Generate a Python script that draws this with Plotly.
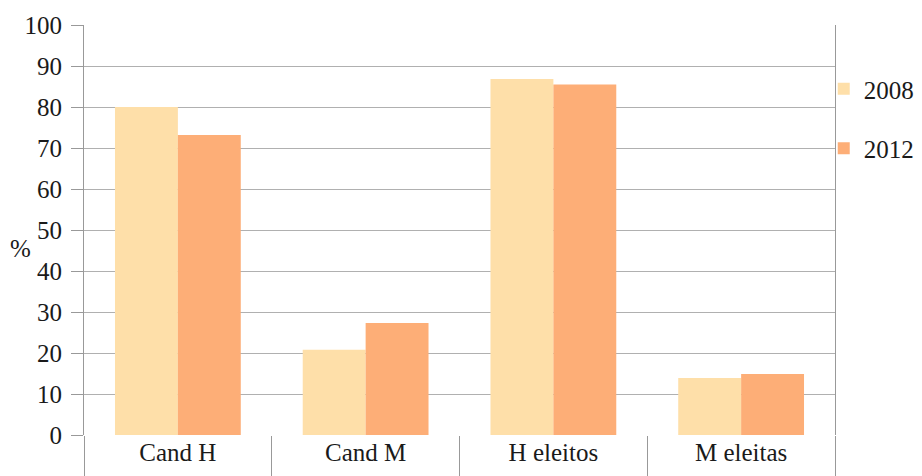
import plotly.graph_objects as go

categories = ["Cand H", "Cand M", "H eleitos", "M eleitas"]
series_names = ["2008", "2012"]
values_2008 = [80, 20.8, 86.8, 13.9]
values_2012 = [73.2, 27.3, 85.5, 14.9]
y_ticks = [0, 10, 20, 30, 40, 50, 60, 70, 80, 90, 100]

colors = ["#FEDFA9", "#FDAE77"]
font_family = "'Liberation Serif', 'Times New Roman', serif"

fig = go.Figure()
for i, (name, vals) in enumerate(zip(series_names, [values_2008, values_2012])):
    fig.add_trace(go.Bar(
        x=categories, y=vals, name=name, marker_color=colors[i],
        marker_line_width=0, legendgroup=name,
    ))

fig.update_layout(
    width=922, height=476,
    margin=dict(l=84, r=87, t=25, b=41, autoexpand=False),
    paper_bgcolor="white", plot_bgcolor="white",
    barmode="group", bargap=0.33, bargroupgap=0,
    font=dict(family=font_family, size=25, color="#1a1a1a"),
    legend=dict(x=0.985, y=0.9, xanchor="left", yanchor="top",
                font=dict(size=25), tracegroupgap=24, itemwidth=30,
                bgcolor="rgba(0,0,0,0)"),
    showlegend=True,
)
fig.update_xaxes(
    range=[-0.5, 3.5], showgrid=False, showline=False,
    ticks="outside", tickson="boundaries", ticklen=41, tickcolor="#999999",
    tickwidth=1, tickfont=dict(size=25),
    zeroline=False,
)
fig.update_yaxes(
    range=[0, 100], tickvals=y_ticks, showgrid=True, gridcolor="#b0b0b0",
    gridwidth=1, showline=True, linecolor="#999999", linewidth=1, mirror=True,
    ticks="outside", ticklen=12, tickcolor="#999999", tickfont=dict(size=25),
    ticklabelstandoff=4, zeroline=False,
)
fig.add_annotation(text="%", x=-0.084, y=0.455, xref="paper", yref="paper",
                   xanchor="center", showarrow=False,
                   font=dict(size=25, family=font_family))

fig.write_html("out.html")
